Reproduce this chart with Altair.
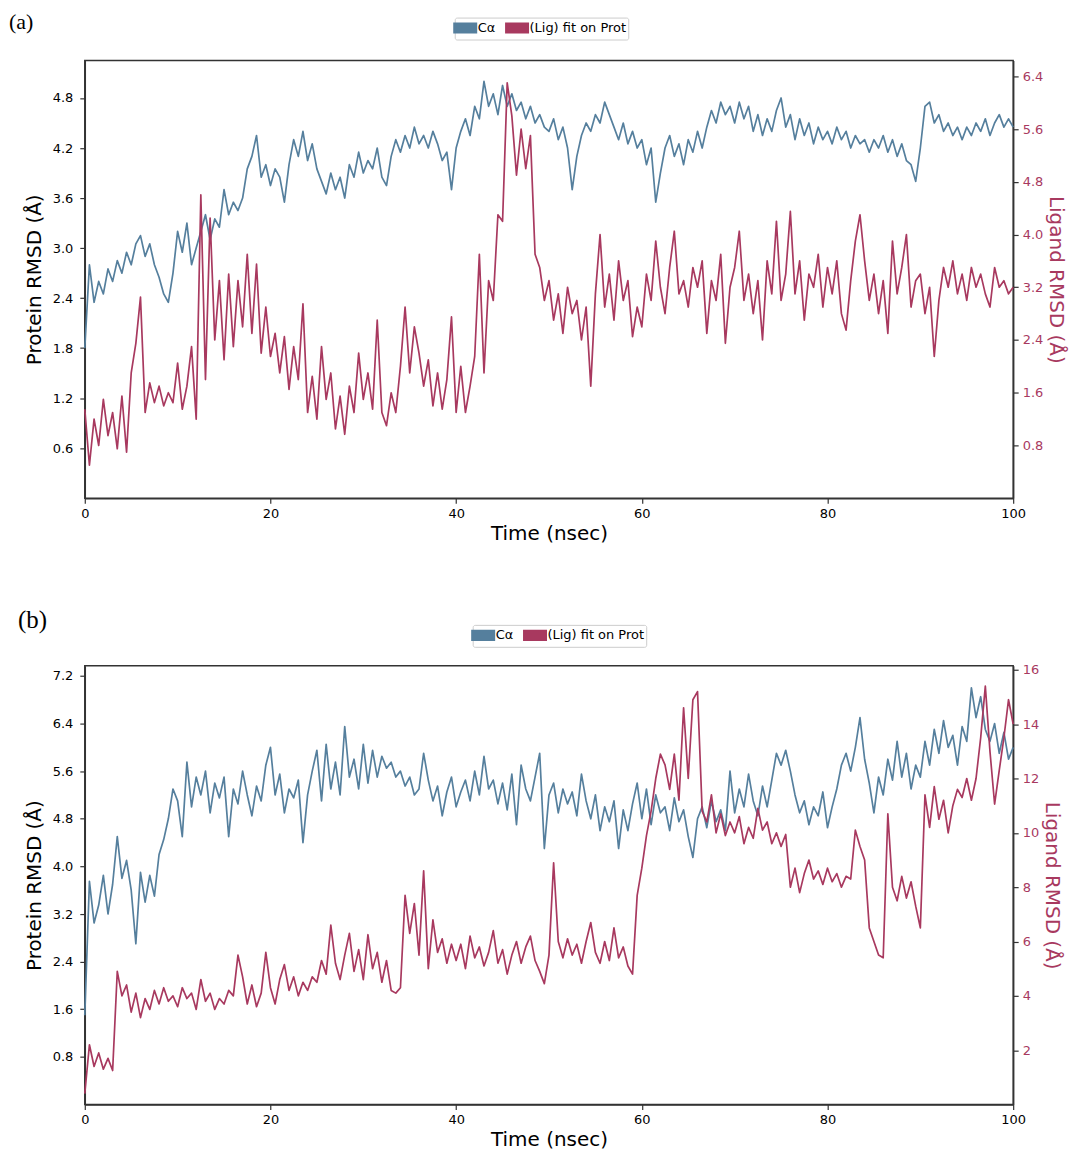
import altair as alt
import pandas as pd

# ---------------- data ----------------
TIME = [i * 0.5 for i in range(201)]  # 0 .. 100 nsec

PROT_A = [
    1.8, 2.8, 2.35, 2.6, 2.45, 2.75, 2.6, 2.85, 2.7, 2.95,
    2.8, 3.05, 3.15, 2.9, 3.05, 2.8, 2.65, 2.45, 2.35, 2.7,
    3.2, 2.95, 3.3, 2.8, 3.0, 3.2, 3.4, 3.1, 3.35, 3.25,
    3.7, 3.4, 3.55, 3.45, 3.6, 3.95, 4.1, 4.35, 3.85, 4.0,
    3.75, 3.95, 3.85, 3.55, 4.0, 4.3, 4.1, 4.4, 4.05, 4.25,
    3.95, 3.8, 3.65, 3.9, 3.7, 3.85, 3.6, 4.0, 3.85, 4.15,
    3.9, 4.05, 3.95, 4.2, 3.85, 3.75, 4.1, 4.3, 4.15, 4.35,
    4.2, 4.45, 4.25, 4.35, 4.2, 4.4, 4.25, 4.05, 4.15, 3.7,
    4.2, 4.4, 4.55, 4.35, 4.7, 4.55, 5.0, 4.7, 4.85, 4.6,
    4.95, 4.7, 4.85, 4.65, 4.75, 4.55, 4.7, 4.5, 4.6, 4.45,
    4.4, 4.55, 4.3, 4.45, 4.2, 3.7, 4.1, 4.35, 4.5, 4.4,
    4.6, 4.5, 4.75, 4.6, 4.45, 4.3, 4.5, 4.25, 4.4, 4.2,
    4.3, 4.0, 4.2, 3.55, 3.9, 4.2, 4.35, 4.1, 4.25, 4.0,
    4.3, 4.15, 4.4, 4.2, 4.45, 4.65, 4.5, 4.75, 4.6, 4.7,
    4.5, 4.75, 4.55, 4.7, 4.4, 4.6, 4.35, 4.55, 4.4, 4.65,
    4.8, 4.45, 4.6, 4.3, 4.55, 4.35, 4.5, 4.25, 4.45, 4.3,
    4.4, 4.25, 4.45, 4.3, 4.4, 4.2, 4.35, 4.25, 4.3, 4.15,
    4.3, 4.2, 4.35, 4.15, 4.3, 4.1, 4.25, 4.05, 4.0, 3.8,
    4.2, 4.7, 4.75, 4.5, 4.6, 4.4, 4.5, 4.35, 4.45, 4.3,
    4.45, 4.35, 4.5, 4.4, 4.55, 4.35, 4.5, 4.6, 4.45, 4.55,
    4.45,
]

LIG_A = [
    1.35, 0.5, 1.2, 0.8, 1.5, 0.95, 1.3, 0.75, 1.55, 0.7,
    1.9, 2.35, 3.05, 1.3, 1.75, 1.45, 1.7, 1.4, 1.6, 1.45,
    2.05, 1.35, 1.7, 2.3, 1.2, 4.6, 1.8, 4.25, 2.4, 3.3,
    2.1, 3.4, 2.3, 3.3, 2.6, 3.7, 2.5, 3.55, 2.2, 2.9,
    2.15, 2.5, 1.9, 2.45, 1.65, 2.3, 1.8, 2.95, 1.3, 1.85,
    1.2, 2.3, 1.5, 1.9, 1.05, 1.55, 0.97, 1.7, 1.3, 2.2,
    1.5, 1.9, 1.35, 2.7, 1.3, 1.1, 1.6, 1.3, 2.0, 2.9,
    1.9, 2.6, 2.2, 1.7, 2.1, 1.4, 1.9, 1.35, 1.8, 2.75,
    1.3, 2.0, 1.3, 1.7, 2.15, 3.7, 1.9, 3.3, 3.0, 4.3,
    4.2, 6.3, 5.8, 4.9, 5.6, 5.0, 5.5, 3.7, 3.5, 3.0,
    3.3, 2.7, 3.1, 2.5, 3.2, 2.8, 3.0, 2.4, 2.9, 1.7,
    3.1, 4.0, 2.9, 3.4, 2.7, 3.6, 3.0, 3.3, 2.45, 2.9,
    2.6, 3.4, 3.0, 3.9, 3.2, 2.8, 3.5, 4.05, 3.1, 3.3,
    2.9, 3.5, 3.2, 3.6, 2.5, 3.3, 3.0, 3.7, 2.35, 3.2,
    3.5, 4.05, 3.0, 3.4, 2.8, 3.3, 2.4, 3.6, 3.1, 4.2,
    3.0, 3.4, 4.35, 3.1, 3.6, 2.7, 3.4, 3.2, 3.7, 2.9,
    3.5, 3.1, 3.6, 2.8, 2.55, 3.3, 3.9, 4.3, 3.6, 3.0,
    3.4, 2.8, 3.3, 2.5, 3.9, 3.1, 3.5, 4.0, 2.9, 3.3,
    3.4, 2.8, 3.2, 2.15, 3.0, 3.5, 3.2, 3.6, 3.1, 3.4,
    3.0, 3.5, 3.2, 3.4, 3.1, 2.9, 3.5, 3.2, 3.3, 3.1,
    3.2,
]

PROT_B = [
    1.5, 3.75, 3.05, 3.35, 3.85, 3.2, 3.7, 4.5, 3.8, 4.1,
    3.6, 2.7, 3.9, 3.4, 3.85, 3.5, 4.2, 4.45, 4.8, 5.3,
    5.1, 4.5, 5.75, 5.0, 5.5, 5.2, 5.6, 4.9, 5.4, 5.15,
    5.5, 4.5, 5.3, 5.05, 5.6, 5.2, 4.85, 5.35, 5.1, 5.7,
    6.0, 5.2, 5.55, 4.9, 5.3, 5.15, 5.45, 4.4, 5.2, 5.6,
    5.95, 5.1, 6.05, 5.3, 5.75, 5.2, 6.35, 5.5, 5.8, 5.3,
    6.05, 5.4, 5.95, 5.5, 5.85, 5.65, 5.75, 5.5, 5.6, 5.35,
    5.5, 5.2, 5.3, 5.9, 5.45, 5.1, 5.35, 4.85, 5.25, 5.5,
    5.0, 5.25, 5.45, 5.1, 5.6, 5.2, 5.85, 5.3, 5.45, 5.05,
    5.4, 4.95, 5.55, 4.7, 5.7, 5.3, 5.1, 5.5, 5.9, 4.3,
    5.2, 5.4, 4.9, 5.3, 5.05, 5.25, 4.85, 5.55, 5.1, 4.8,
    5.2, 4.6, 5.0, 4.75, 5.1, 4.3, 4.95, 4.6, 5.05, 5.4,
    4.8, 5.3, 4.7, 5.2, 4.9, 5.0, 4.6, 5.15, 4.75, 4.95,
    4.5, 4.15, 4.8, 5.0, 4.65, 5.1, 4.75, 4.95, 4.6, 5.6,
    4.9, 5.3, 5.0, 5.55, 5.1, 4.85, 5.35, 5.0, 5.45, 5.9,
    5.7, 5.95, 5.6, 5.2, 4.9, 5.1, 4.7, 5.0, 4.85, 5.25,
    4.65, 5.0, 5.3, 5.7, 5.9, 5.6, 6.0, 6.5, 5.8, 5.4,
    4.9, 5.5, 5.2, 5.8, 5.45, 6.1, 5.5, 5.9, 5.3, 5.7,
    5.5, 6.1, 5.7, 6.3, 5.9, 6.45, 6.0, 6.2, 5.7, 6.35,
    6.1, 7.0, 6.5, 6.85, 6.3, 6.1, 6.4, 5.9, 6.25, 5.8,
    6.0,
]

LIG_B = [
    0.4, 2.2, 1.4, 1.9, 1.3, 1.7, 1.25, 4.9, 4.0, 4.4,
    3.4, 4.1, 3.2, 3.9, 3.5, 4.2, 3.7, 4.3, 3.8, 4.0,
    3.6, 4.3, 3.9, 4.1, 3.5, 4.6, 3.8, 4.1, 3.5, 3.9,
    3.7, 4.2, 4.0, 5.5, 4.7, 3.7, 4.4, 3.6, 4.1, 5.6,
    4.3, 3.7, 4.6, 5.15, 4.2, 4.7, 4.0, 4.5, 4.2, 4.7,
    4.5, 5.3, 4.8, 6.6, 5.2, 4.6, 5.5, 6.3, 4.9, 5.7,
    4.6, 6.25, 5.0, 5.6, 4.5, 5.3, 4.2, 4.1, 4.3, 7.7,
    6.3, 7.4, 5.5, 8.6, 5.0, 6.8, 5.6, 6.1, 5.2, 5.9,
    5.3, 5.9, 5.0, 6.2, 5.4, 5.8, 5.1, 5.6, 6.4, 5.2,
    5.7, 4.8, 5.5, 6.0, 5.2, 5.8, 6.2, 5.3, 4.9, 4.45,
    5.5, 8.9, 6.0, 5.4, 6.1, 5.5, 5.9, 5.2, 6.0, 6.7,
    5.6, 5.2, 6.0, 5.3, 6.5, 5.4, 5.8, 5.1, 4.8, 7.7,
    8.7, 9.9, 10.8, 12.0, 12.9, 12.5, 11.6, 12.9, 11.2, 14.6,
    12.0, 14.9, 15.2, 10.8, 10.4, 11.4, 10.0, 10.7, 9.9, 10.4,
    10.0, 10.6, 9.6, 10.2, 9.8, 10.9, 10.1, 10.4, 9.6, 10.0,
    9.5, 9.94, 8.0, 8.7, 7.8, 8.5, 9.0, 8.3, 8.6, 8.1,
    8.7, 8.2, 8.5, 8.0, 8.4, 8.3, 10.1, 9.5, 9.0, 6.5,
    6.0, 5.5, 5.4, 10.7, 8.0, 7.5, 8.4, 7.6, 8.2, 7.3,
    6.5, 11.4, 10.2, 11.7, 10.5, 11.2, 10.0, 11.0, 11.6, 11.3,
    12.0, 11.2, 12.0, 13.5, 15.4, 13.0, 11.06, 12.3, 13.5, 14.9,
    14.0,
]

SERIES = ["C\u03b1", "(Lig) fit on Prot"]
X_TICKS = [0, 20, 40, 60, 80, 100]
A_PROT_TICKS = [0.6, 1.2, 1.8, 2.4, 3.0, 3.6, 4.2, 4.8]
A_LIG_TICKS = [0.8, 1.6, 2.4, 3.2, 4.0, 4.8, 5.6, 6.4]
B_PROT_TICKS = [0.8, 1.6, 2.4, 3.2, 4.0, 4.8, 5.6, 6.4, 7.2]
B_LIG_TICKS = [2, 4, 6, 8, 10, 12, 14, 16]

BLUE = "#557f9d"
RED = "#a8395f"
W = 931
# wide, filled legend patch drawn as a stack of thick horizontal strokes
PATCH = ("M-1.7,-0.6H1.7M-1.7,-0.3H1.7M-1.7,0H1.7M-1.7,0.3H1.7M-1.7,0.6H1.7")


def panel(prot, lig, pdom, pticks, pfmt, ldom, lticks, lfmt, label, label_size,
          title_dx, title_dy, leg_x, leg_y, height):
    df = pd.DataFrame({"t": TIME, "prot": prot, "lig": lig})
    color = alt.Color(
        "series:N",
        scale=alt.Scale(domain=SERIES, range=[BLUE, RED]),
        legend=alt.Legend(
            orient="none", legendX=leg_x, legendY=leg_y, direction="horizontal",
            title=None, symbolType=PATCH, symbolStrokeWidth=2.6, symbolSize=200,
            labelFont="DejaVu Sans", labelFontSize=13, labelColor="black",
            labelOffset=4, columnPadding=4, padding=2, strokeColor="#cccccc",
            fillColor="white", cornerRadius=2, symbolOpacity=1,
        ),
    )
    x = alt.X(
        "t:Q",
        scale=alt.Scale(domain=[0, 100], nice=False, zero=False),
        axis=alt.Axis(values=X_TICKS, format="d", title="Time (nsec)", labelFlush=False,
                      titlePadding=3),
    )
    p = (
        alt.Chart(df)
        .transform_calculate(series="'C\u03b1'")
        .mark_line(strokeWidth=1.7, strokeJoin="round")
        .encode(
            x=x,
            y=alt.Y("prot:Q", scale=alt.Scale(domain=pdom, nice=False, zero=False),
                    axis=alt.Axis(orient="left", values=pticks, format=pfmt,
                                  title="Protein RMSD (\u00c5)", labelFlush=False,
                                  labelPadding=7, titlePadding=8)),
            color=color,
        )
    )
    l = (
        alt.Chart(df)
        .transform_calculate(series="'(Lig) fit on Prot'")
        .mark_line(strokeWidth=1.7, strokeJoin="round")
        .encode(
            x=x,
            y=alt.Y("lig:Q", scale=alt.Scale(domain=ldom, nice=False, zero=False),
                    axis=alt.Axis(orient="right", values=lticks, format=lfmt,
                                  title="Ligand RMSD (\u00c5)", labelColor=RED,
                                  titleColor=RED, labelFlush=False, labelPadding=4,
                                  titlePadding=3)),
            color=color,
        )
    )
    return (
        alt.layer(p, l)
        .resolve_scale(y="independent")
        .properties(
            width=W, height=height,
            title=alt.TitleParams(
                text=label, anchor="start", frame="group", orient="top",
                font="Liberation Serif", fontSize=label_size, fontWeight="normal",
                color="black", dx=title_dx, dy=title_dy, offset=-8,
            ),
        )
    )


chart_a = panel(PROT_A, LIG_A, [0, 5.25], A_PROT_TICKS, ".1f", [0, 6.64], A_LIG_TICKS, ".1f",
                "(a)", 22, -76, 9, 371, -43, 439)
chart_b = panel(PROT_B, LIG_B, [0, 7.37], B_PROT_TICKS, ".1f", [0, 16.15], B_LIG_TICKS, "d",
                "(b)", 25, -67, 1, 389, -41, 440)

chart = (
    alt.vconcat(chart_a, chart_b, spacing=63)
    .resolve_scale(color="independent")
    .resolve_legend(color="independent")
    .properties(padding={"left": 0, "top": 0, "right": 8, "bottom": 0}, background="white")
    .configure_view(stroke="#333333", strokeWidth=1.5)
    .configure_axis(
        grid=False, labelFont="DejaVu Sans", labelFontSize=13, labelColor="black",
        titleFont="DejaVu Sans", titleFontSize=20, titleFontWeight="normal",
        titleColor="black", domainColor="#333333", domainWidth=1.5,
        tickColor="#333333", tickWidth=1.2, tickSize=5, labelPadding=4,
    )
)

chart.save("out.html", embed_options={"renderer": "svg", "actions": False})
